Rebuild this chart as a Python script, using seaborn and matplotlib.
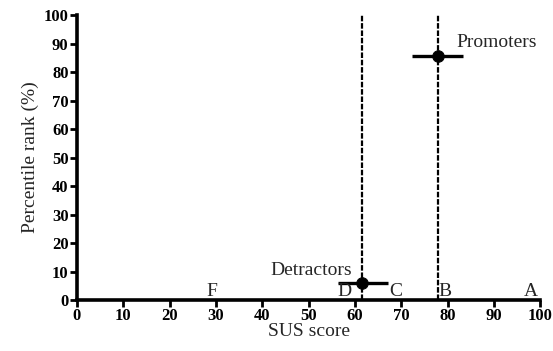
import numpy as np
import pandas as pd
import matplotlib
matplotlib.use("Agg")
import matplotlib.pyplot as plt
import seaborn as sns

# Dados
groups = ["Promoters", "Detractors"]
sus_mean = [78.0, 61.6]
sus_low = [72.3, 56.3]
sus_high = [83.3, 67.2]
pct_rank = [85.7, 6.1]
grade_letters = ["F", "D", "C", "B", "A"]
grade_pos = [29.2, 57.7, 68.8, 79.5, 98.0]
xticks = list(range(0, 101, 10))
yticks = list(range(0, 101, 10))

sns.set_style("ticks")
plt.rcParams['font.family'] = ['Liberation Serif', 'DejaVu Serif']

df = pd.DataFrame({"group": groups, "sus": sus_mean, "rank": pct_rank,
                   "lo": sus_low, "hi": sus_high})

fig = plt.figure(figsize=(5.53, 3.51), dpi=100)
ax = fig.add_axes([0.139, 0.145, 0.838, 0.812])

# linhas verticais tracejadas nas médias
for x in df["sus"]:
    ax.axvline(x, color="black", lw=1.6, ls=(0, (2.5, 0.8)), zorder=1)

# barras de erro horizontais
ax.errorbar(df["sus"], df["rank"],
            xerr=[df["sus"] - df["lo"], df["hi"] - df["sus"]],
            fmt="none", ecolor="black", elinewidth=2.4, capsize=0, zorder=2)
sns.scatterplot(data=df, x="sus", y="rank", color="black", s=70,
                edgecolor="black", ax=ax, zorder=3, legend=False)

fs = 14
ax.text(81.8, 87.5, "Promoters", fontsize=fs, ha="left", va="bottom")
ax.text(59.3, 7.5, "Detractors", fontsize=fs, ha="right", va="bottom")

for lab, x in zip(grade_letters, grade_pos):
    ax.text(x, 0.2, lab, fontsize=fs, ha="center", va="bottom")

ax.set_xlim(0, 100)
ax.set_ylim(0, 100)
ax.set_xticks(xticks)
ax.set_yticks(yticks)
ax.set_xlabel("SUS score", fontsize=fs, labelpad=-1)
ax.set_ylabel("Percentile rank (%)", fontsize=fs, labelpad=3)
for lbl in ax.get_xticklabels() + ax.get_yticklabels():
    lbl.set_fontweight("bold")
    lbl.set_fontsize(12)

ax.tick_params(direction="out", width=2, length=5, pad=1, colors="black")
sns.despine(ax=ax)
for side in ["left", "bottom"]:
    ax.spines[side].set_linewidth(2.6)
    ax.spines[side].set_color("black")

plt.savefig("out.png", dpi=100)
